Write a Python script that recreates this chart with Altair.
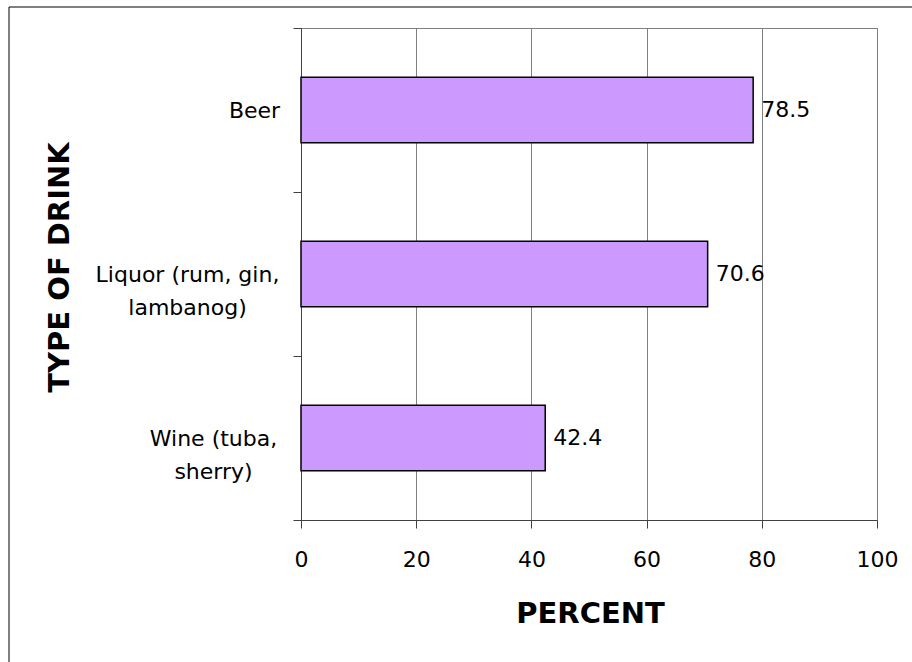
import altair as alt
import pandas as pd

categories = ["Beer", "Liquor (rum, gin,|lambanog)", "Wine (tuba,|sherry)"]
percent = [78.5, 70.6, 42.4]
x_ticks = [0, 20, 40, 60, 80, 100]

df = pd.DataFrame({"drink": categories, "percent": percent})

FONT = "DejaVu Sans"

y_axis = alt.Axis(
    title="TYPE OF DRINK",
    titleFont=FONT, titleFontSize=29, titleFontWeight="bold", titleColor="black",
    titleAngle=270, titleAlign="center", titleBaseline="alphabetic",
    titleX=-233, titleY=239,
    labelFont=FONT, labelFontSize=22, labelColor="black",
    labelExpr="split(datum.label, '|')",
    labelAlign="center", labelBaseline="middle", labelLineHeight=33,
    labelLimit=0,
    labelPadding={"condition": [
        {"test": "datum.value === 'Beer'", "value": 39},
        {"test": "datum.value === 'Wine (tuba,|sherry)'", "value": 80},
    ], "value": 106},
    tickBand="extent", tickSize=8, tickColor="#404040",
    domainColor="#404040", grid=False,
)

x_axis = alt.Axis(
    title="PERCENT",
    titleFont=FONT, titleFontSize=29, titleFontWeight="bold", titleColor="black",
    titleAlign="center", titleBaseline="alphabetic", titleX=289, titleY=102,
    values=x_ticks,
    labelFont=FONT, labelFontSize=22, labelColor="black",
    labelBaseline="alphabetic", labelPadding=38, labelFlush=False,
    tickSize=8, tickColor="#404040", domainColor="#404040",
    grid=True, gridColor="#808080",
)

base = alt.Chart(df).encode(
    y=alt.Y("drink:N", sort=categories,
            scale=alt.Scale(paddingInner=0, paddingOuter=0), axis=y_axis),
    x=alt.X("percent:Q", scale=alt.Scale(domain=[0, 100], nice=False), axis=x_axis),
)

bars = base.mark_bar(fill="#CC99FF", stroke="black", strokeWidth=1.5,
                     height=alt.RelativeBandSize(0.4))
labels = base.mark_text(align="left", baseline="middle", dx=8, font=FONT,
                        fontSize=22, color="black").encode(
    text=alt.Text("percent:Q", format=".1f"))

border = alt.Chart(pd.DataFrame({"k": [0]})).mark_rect(
    fill="transparent", stroke="black", strokeWidth=1, clip=False
).encode(x=alt.value(-292), x2=alt.value(640), y=alt.value(-21), y2=alt.value(680))

chart = alt.layer(border, bars, labels).properties(
    width=576, height=492,
    autosize=alt.AutoSizeParams(type="none"),
    padding={"left": 301, "top": 28, "right": 35, "bottom": 142},
    background="white",
).configure_view(stroke="#808080", strokeWidth=1)

chart.save("out.html", embed_options={"renderer": "svg", "actions": False})
